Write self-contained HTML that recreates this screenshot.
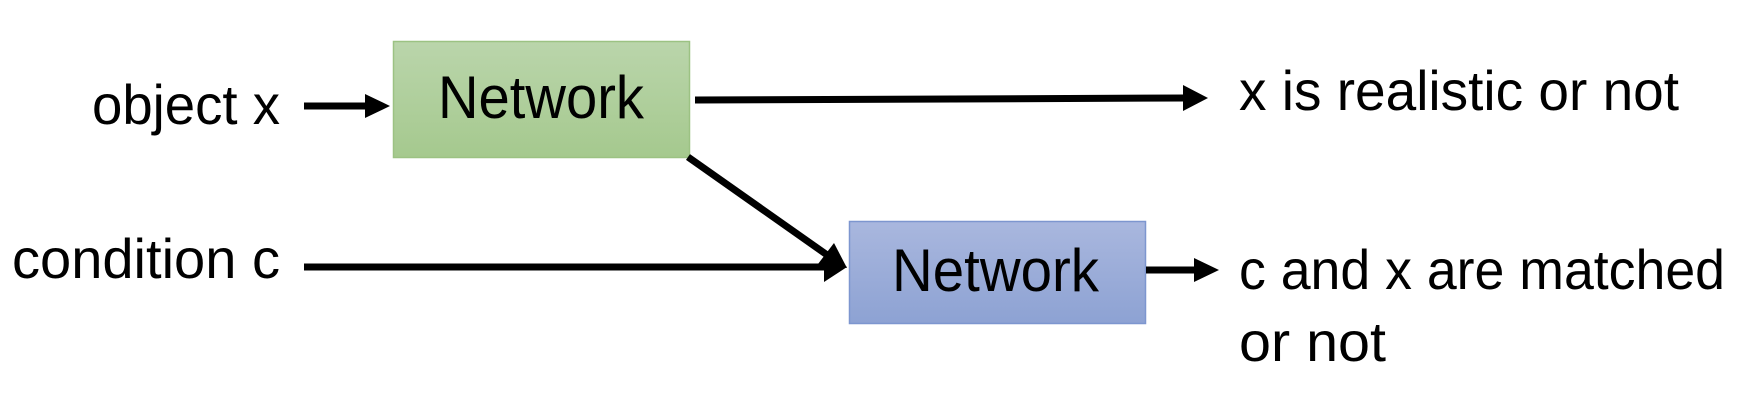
<!DOCTYPE html>
<html><head><meta charset="utf-8"><style>
html,body{margin:0;padding:0;background:#fff;}
svg{display:block;}
text{font-family:"Liberation Sans",sans-serif;fill:#000;}
</style></head><body>
<svg width="1740" height="414" viewBox="0 0 1740 414" xmlns="http://www.w3.org/2000/svg">
<defs>
<linearGradient id="g" x1="0" y1="0" x2="0" y2="1"><stop offset="0" stop-color="#bad5ab"/><stop offset="1" stop-color="#a5c98e"/></linearGradient>
<linearGradient id="b" x1="0" y1="0" x2="0" y2="1"><stop offset="0" stop-color="#a9b7de"/><stop offset="1" stop-color="#8da2d3"/></linearGradient>
</defs>
<rect x="393.5" y="41.5" width="296" height="116" fill="url(#g)" stroke="#9cc283" stroke-width="1.5"/>
<rect x="849.5" y="221.5" width="296" height="102" fill="url(#b)" stroke="#7d96cf" stroke-width="1.5"/>

<text x="92" y="124" font-size="56" textLength="188" lengthAdjust="spacingAndGlyphs">object x</text>
<text x="12" y="278" font-size="56" textLength="268" lengthAdjust="spacingAndGlyphs">condition c</text>
<text x="438" y="118" font-size="60" textLength="206" lengthAdjust="spacingAndGlyphs">Network</text>
<text x="892" y="291" font-size="60" textLength="207" lengthAdjust="spacingAndGlyphs">Network</text>
<text x="1239" y="110" font-size="56" textLength="440" lengthAdjust="spacingAndGlyphs">x is realistic or not</text>
<text x="1239" y="289" font-size="56" textLength="486" lengthAdjust="spacingAndGlyphs">c and x are matched</text>
<text x="1239" y="361" font-size="56" textLength="147" lengthAdjust="spacingAndGlyphs">or not</text>

<g stroke="#000" stroke-width="7" fill="none">
<line x1="304" y1="106" x2="368" y2="106"/>
<line x1="695" y1="100" x2="1186" y2="98"/>
<line x1="688" y1="157" x2="830" y2="257"/>
<line x1="304" y1="267" x2="828" y2="267"/>
<line x1="1146" y1="270" x2="1197" y2="270"/>
</g>
<g fill="#000">
<polygon points="365,94 390,106 365,118"/>
<polygon points="1183,85 1208,98 1183,111"/>
<polygon points="824,252 847,267 824,282"/>
<polygon points="834,243 847,268 818,264"/>
<polygon points="1194,258 1219,270 1194,282"/>
</g>
</svg>
</body></html>
